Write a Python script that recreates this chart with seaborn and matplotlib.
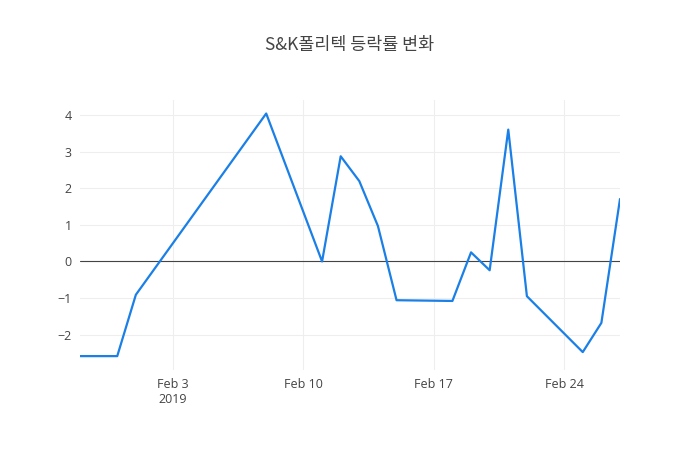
import numpy as np
import pandas as pd
import matplotlib
matplotlib.use('Agg')
import matplotlib.pyplot as plt
import seaborn as sns

# 날짜별 등락률
dates = ['2019-01-29', '2019-01-31', '2019-02-01', '2019-02-08', '2019-02-11',
         '2019-02-12', '2019-02-13', '2019-02-14', '2019-02-15', '2019-02-18',
         '2019-02-19', '2019-02-20', '2019-02-21', '2019-02-22', '2019-02-25',
         '2019-02-26', '2019-02-27']
rates = [-2.59, -2.59, -0.91, 4.05, 0.0,
         2.88, 2.20, 0.97, -1.06, -1.08,
         0.25, -0.24, 3.61, -0.95, -2.48,
         -1.68, 1.71]

tick_dates = ['2019-02-03', '2019-02-10', '2019-02-17', '2019-02-24']
tick_labels = ['Feb 3\n2019', 'Feb 10', 'Feb 17', 'Feb 24']
y_ticks = [-2, -1, 0, 1, 2, 3, 4]

df = pd.DataFrame({'date': pd.to_datetime(dates), 'rate': rates})

sns.set_theme(style='white')
plt.rcParams['font.family'] = ['Open Sans', 'Noto Sans CJK KR', 'DejaVu Sans']

fig = plt.figure(figsize=(7, 4.5), dpi=100)
ax = fig.add_axes([80 / 700, 80 / 450, 540 / 700, 270 / 450])

sns.lineplot(data=df, x='date', y='rate', ax=ax, color='#1a7fe6', linewidth=1.6)

ax.set_xlim(pd.Timestamp('2019-01-29'), pd.Timestamp('2019-02-27'))
ax.set_ylim(-2.97, 4.42)

ax.set_xticks(pd.to_datetime(tick_dates))
ax.set_xticklabels(tick_labels)
ax.set_yticks(y_ticks)
ax.set_yticklabels([str(v).replace('-', '\u2212') for v in y_ticks])

ax.grid(True, color='#eeeeee', linewidth=0.8)
ax.set_axisbelow(True)
ax.axhline(0, color='#444444', linewidth=0.8, zorder=1.5)

for s in ax.spines.values():
    s.set_visible(False)
ax.tick_params(axis='both', length=0, labelsize=9, colors='#444444', pad=6)
ax.set_xlabel('')
ax.set_ylabel('')

fig.suptitle('S&K폴리텍 등락률 변화', y=1 - 45 / 450, va='center',
             fontsize=12.5, color='#444444',
             family=['Noto Sans CJK KR', 'DejaVu Sans'])

plt.savefig('out.png', dpi=100)
